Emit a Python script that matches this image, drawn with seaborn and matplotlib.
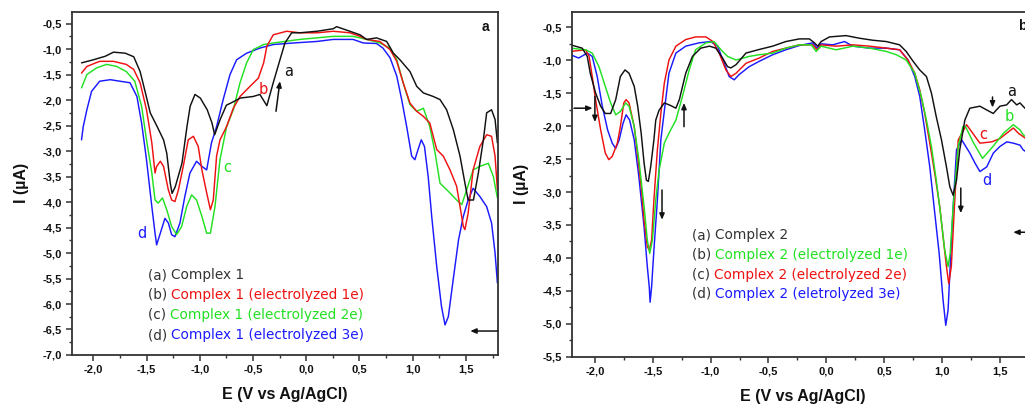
import numpy as np
import pandas as pd
import matplotlib
matplotlib.use("Agg")
import matplotlib.pyplot as plt
import seaborn as sns
from matplotlib.ticker import MultipleLocator, FuncFormatter

# ---------------- data: panel a (Complex 1) ----------------
a1_x = [-2.11, -2.0, -1.887, -1.81, -1.70, -1.62, -1.56, -1.51, -1.465, -1.40, -1.34, -1.31, -1.277, -1.26, -1.23,
        -1.167, -1.12, -1.09, -1.045, -0.995, -0.93, -0.885, -0.86, -0.81, -0.75, -0.70, -0.62, -0.50, -0.435,
        -0.37, -0.31, -0.247, -0.20, -0.137, -0.06, 0.10, 0.254, 0.285, 0.41, 0.505, 0.567, 0.66, 0.755, 0.818,
        0.88, 0.974, 1.037, 1.10, 1.193, 1.256, 1.318, 1.381, 1.444, 1.49, 1.52, 1.57, 1.616, 1.663, 1.694,
        1.74, 1.773, 1.795]
a1_y = [-1.27, -1.21, -1.14, -1.06, -1.08, -1.15, -1.44, -1.86, -2.25, -2.52, -2.78, -3.04, -3.63, -3.83, -3.70,
        -3.24, -2.52, -2.12, -1.89, -1.96, -2.19, -2.45, -2.68, -2.39, -2.10, -2.05, -1.96, -1.93, -1.89,
        -2.11, -1.66, -1.21, -0.88, -0.68, -0.68, -0.65, -0.60, -0.56, -0.65, -0.72, -0.81, -0.78, -0.85, -1.08,
        -1.21, -1.44, -1.73, -1.86, -1.93, -1.99, -2.19, -2.58, -3.10, -3.63, -3.96, -3.96, -3.43, -2.78, -2.25,
        -2.19, -2.38, -2.84]

b1_x = [-2.11, -2.06, -1.94, -1.81, -1.69, -1.62, -1.56, -1.50, -1.45, -1.42, -1.405, -1.37, -1.34, -1.295, -1.264,
        -1.233, -1.20, -1.155, -1.108, -1.06, -1.014, -0.98, -0.935, -0.90, -0.873, -0.842, -0.81, -0.748, -0.685,
        -0.622, -0.528, -0.45, -0.40, -0.37, -0.31, -0.184, -0.06, 0.10, 0.254, 0.41, 0.505, 0.567, 0.69, 0.787,
        0.85, 0.91, 0.974, 1.037, 1.10, 1.16, 1.225, 1.287, 1.35, 1.412, 1.444, 1.475, 1.49, 1.52, 1.567, 1.63,
        1.694, 1.74, 1.773, 1.795]
b1_y = [-1.47, -1.34, -1.24, -1.24, -1.30, -1.40, -1.66, -2.19, -2.84, -3.43, -3.30, -3.20, -3.30, -3.76, -3.96,
        -3.99, -3.76, -3.30, -2.78, -2.71, -2.91, -3.37, -3.82, -4.15, -3.96, -3.10, -2.78, -2.52, -2.16,
        -1.93, -1.73, -1.57, -1.27, -0.945, -0.72, -0.65, -0.68, -0.68, -0.65, -0.68, -0.75, -0.81, -0.85, -1.01,
        -1.24, -1.66, -2.06, -2.22, -2.32, -2.45, -2.97, -3.10, -3.37, -3.69, -4.09, -4.48, -4.54, -4.22, -3.37, -2.91,
        -2.68, -2.71, -3.10, -3.76]

c1_x = [-2.11, -2.06, -1.97, -1.875, -1.78, -1.69, -1.61, -1.546, -1.50, -1.45, -1.42, -1.39, -1.35, -1.31, -1.264,
        -1.217, -1.17, -1.123, -1.076, -1.03, -0.98, -0.935, -0.90, -0.857, -0.81, -0.748, -0.685, -0.622, -0.56,
        -0.497, -0.40, -0.31, -0.06, 0.254, 0.44, 0.567, 0.69, 0.787, 0.85, 0.91, 0.974, 1.037, 1.10, 1.16, 1.21,
        1.256, 1.334, 1.412, 1.46, 1.506, 1.567, 1.63, 1.71, 1.757, 1.795]
c1_y = [-1.76, -1.50, -1.37, -1.30, -1.34, -1.44, -1.63, -2.12, -2.78, -3.43, -3.96, -4.02, -3.92, -4.15, -4.48,
        -4.64, -4.48, -4.09, -3.86, -3.96, -4.28, -4.61, -4.61, -4.09, -3.17, -2.52, -2.19, -1.66, -1.27,
        -1.01, -0.91, -0.88, -0.81, -0.75, -0.75, -0.81, -0.88, -0.98, -1.21, -1.66, -2.09, -2.22, -2.16, -2.52, -3.04,
        -3.63, -3.79, -3.96, -4.05, -3.76, -3.37, -3.30, -3.24, -3.50, -3.92]

d1_x = [-2.11, -2.094, -2.06, -2.016, -1.94, -1.84, -1.75, -1.655, -1.59, -1.546, -1.50, -1.45, -1.42, -1.405, -1.37,
        -1.327, -1.295, -1.264, -1.233, -1.186, -1.14, -1.092, -1.03, -0.98, -0.935, -0.89, -0.842, -0.78, -0.716,
        -0.654, -0.56, -0.435, -0.31, -0.12, 0.10, 0.254, 0.44, 0.536, 0.66, 0.72, 0.787, 0.85, 0.896, 0.943, 0.99,
        1.02, 1.05, 1.08, 1.11, 1.145, 1.178, 1.225, 1.27, 1.303, 1.334, 1.38, 1.43, 1.475, 1.52, 1.567, 1.63,
        1.694, 1.74, 1.773, 1.795]
d1_y = [-2.78, -2.52, -2.19, -1.83, -1.63, -1.60, -1.63, -1.66, -1.93, -2.45, -3.17, -4.09, -4.61, -4.84, -4.61,
        -4.32, -4.41, -4.64, -4.68, -4.41, -3.89, -3.43, -3.20, -3.30, -3.37, -2.84, -2.52, -1.99, -1.50,
        -1.21, -1.08, -0.98, -0.91, -0.88, -0.85, -0.81, -0.81, -0.88, -0.89, -0.98, -1.17, -1.53, -1.99, -2.52, -3.10,
        -3.17, -2.97, -2.78, -2.91, -3.50, -4.28, -5.26, -6.05, -6.41, -6.25, -5.52, -4.74, -4.28, -3.96, -3.73, -3.89,
        -4.09, -4.41, -5.00, -5.59]

# ---------------- data: panel b (Complex 2) ----------------
a2_x = [-2.21, -2.11, -2.066, -2.04, -1.994, -1.95, -1.91, -1.864, -1.82, -1.78, -1.74, -1.705, -1.66, -1.63, -1.60,
        -1.575, -1.555, -1.538, -1.518, -1.49, -1.474, -1.445, -1.40, -1.345, -1.30, -1.27, -1.215, -1.157, -1.085,
        -1.01, -0.955, -0.897, -0.854, -0.825, -0.78, -0.695, -0.58, -0.464, -0.35, -0.233, -0.146, -0.103, -0.074,
        -0.045, 0.027, 0.17, 0.287, 0.40, 0.518, 0.633, 0.69, 0.75, 0.807, 0.865, 0.908, 0.95, 0.995, 1.038, 1.067,
        1.096, 1.125, 1.153, 1.197, 1.24, 1.327, 1.384, 1.442, 1.50, 1.558, 1.60, 1.645, 1.673, 1.716, 1.76, 1.80]
a2_y = [-0.77, -0.82, -0.945, -1.20, -1.50, -1.70, -1.81, -1.81, -1.60, -1.25, -1.15, -1.20, -1.40, -1.70, -2.11,
        -2.56, -2.82, -2.84, -2.62, -2.21, -1.91, -1.76, -1.65, -1.69, -1.73, -1.60, -1.20, -0.945, -0.82,
        -0.79, -0.82, -0.97, -1.10, -1.12, -1.07, -0.895, -0.84, -0.79, -0.72, -0.68, -0.68, -0.74, -0.79,
        -0.72, -0.65, -0.63, -0.67, -0.70, -0.72, -0.77, -0.87, -1.02, -1.15, -1.25, -1.50, -1.86, -2.21, -2.62, -2.92,
        -3.05, -2.82, -2.36, -1.91, -1.73, -1.70, -1.755, -1.81, -1.70, -1.68, -1.60, -1.68, -1.65, -1.73, -1.76, -1.80]

b2_x = [-2.21, -2.08, -2.023, -1.965, -1.91, -1.864, -1.82, -1.78, -1.734, -1.705, -1.66, -1.62, -1.575, -1.547, -1.526,
        -1.503, -1.474, -1.445, -1.40, -1.36, -1.30, -1.243, -1.185, -1.13, -1.04, -0.97, -0.91, -0.854, -0.78,
        -0.666, -0.58, -0.464, -0.35, -0.233, -0.13, -0.088, -0.045, 0.085, 0.23, 0.374, 0.518, 0.605, 0.69, 0.764,
        0.82, 0.865, 0.908, 0.95, 0.986, 1.023, 1.052, 1.07, 1.096, 1.14, 1.18, 1.20, 1.27, 1.35, 1.44, 1.53, 1.616,
        1.674, 1.70, 1.75, 1.80]
b2_y = [-0.82, -0.845, -0.895, -1.10, -1.40, -1.65, -1.83, -1.78, -1.65, -1.70, -2.01, -2.51, -3.22, -3.73, -3.93,
        -3.73, -3.12, -2.67, -2.26, -2.11, -1.91, -1.55, -1.15, -0.845, -0.74, -0.72, -0.845, -0.945, -1.00,
        -0.945, -0.92, -0.895, -0.82, -0.77, -0.77, -0.87, -0.79, -0.845, -0.79, -0.82, -0.87, -0.92, -1.00, -1.20,
        -1.55, -1.91, -2.31, -2.82, -3.32, -3.88, -4.13, -3.93, -3.22, -2.31, -2.01, -2.00, -2.25, -2.49, -2.31, -2.11, -1.98,
        -2.06, -2.13, -2.20, -2.28]

c2_x = [-2.21, -2.08, -2.05, -2.023, -1.994, -1.95, -1.91, -1.88, -1.85, -1.806, -1.78, -1.75, -1.73, -1.705, -1.66,
        -1.63, -1.60, -1.575, -1.547, -1.53, -1.51, -1.49, -1.46, -1.43, -1.40, -1.36, -1.30, -1.215, -1.13, -1.04,
        -0.98, -0.926, -0.868, -0.825, -0.78, -0.695, -0.58, -0.464, -0.35, -0.233, -0.117, -0.08, -0.045, 0.085,
        0.23, 0.374, 0.518, 0.633, 0.706, 0.764, 0.807, 0.85, 0.894, 0.937, 0.98, 1.009, 1.038, 1.058, 1.08, 1.11,
        1.14, 1.212, 1.327, 1.43, 1.50, 1.616, 1.66, 1.70, 1.75, 1.80]
c2_y = [-0.87, -0.845, -0.945, -1.25, -1.60, -2.06, -2.41, -2.51, -2.46, -2.26, -2.01, -1.65, -1.60, -1.65, -2.01,
        -2.46, -2.92, -3.43, -3.83, -3.88, -3.73, -3.12, -2.36, -1.81, -1.35, -1.00, -0.79, -0.69, -0.65, -0.65,
        -0.72, -0.895, -1.15, -1.25, -1.20, -1.05, -0.97, -0.87, -0.82, -0.77, -0.77, -0.845, -0.77, -0.79,
        -0.77, -0.79, -0.82, -0.845, -1.00, -1.20, -1.45, -1.81, -2.26, -2.72, -3.22, -3.68, -4.13, -4.39, -4.13, -3.12,
        -2.21, -1.98, -2.26, -2.24, -2.19, -2.03, -2.11, -2.16, -2.22, -2.30]

d2_x = [-2.21, -2.14, -2.066, -2.023, -1.98, -1.936, -1.89, -1.85, -1.82, -1.79, -1.757, -1.73, -1.70, -1.66, -1.62,
        -1.575, -1.547, -1.53, -1.523, -1.51, -1.49, -1.46, -1.43, -1.388, -1.36, -1.30, -1.215, -1.10, -1.00, -0.94,
        -0.882, -0.84, -0.796, -0.753, -0.666, -0.58, -0.464, -0.35, -0.233, -0.117, -0.08, -0.045, 0.056, 0.157,
        0.23, 0.374, 0.518, 0.633, 0.706, 0.764, 0.807, 0.85, 0.894, 0.937, 0.975, 1.009, 1.032, 1.052, 1.07, 1.096,
        1.125, 1.17, 1.24, 1.284, 1.327, 1.386, 1.443, 1.50, 1.56, 1.616, 1.674, 1.70, 1.75, 1.80]
d2_y = [-0.92, -0.97, -0.895, -0.945, -1.25, -1.70, -2.06, -2.26, -2.34, -2.21, -1.96, -1.83, -1.91, -2.21, -2.77,
        -3.53, -4.13, -4.44, -4.67, -4.44, -3.88, -3.12, -2.21, -1.60, -1.20, -0.895, -0.79, -0.74, -0.72, -0.79,
        -1.05, -1.25, -1.30, -1.22, -1.10, -1.02, -0.92, -0.845, -0.78, -0.74, -0.82, -0.755, -0.77, -0.72,
        -0.79, -0.82, -0.82, -0.845, -1.00, -1.25, -1.55, -2.06, -2.62, -3.32, -3.93, -4.64, -5.02, -4.79, -4.13, -3.22,
        -2.36, -2.21, -2.41, -2.56, -2.69, -2.62, -2.41, -2.31, -2.24, -2.26, -2.29, -2.36, -2.42, -2.50]

COL = {"black": "#111111", "red": "#ee1111", "green": "#22e022", "blue": "#1a1aff"}

left_series = [("a", a1_x, a1_y, COL["black"], "Complex 1"),
               ("b", b1_x, b1_y, COL["red"], "Complex 1 (electrolyzed 1e)"),
               ("c", c1_x, c1_y, COL["green"], "Complex 1 (electrolyzed 2e)"),
               ("d", d1_x, d1_y, COL["blue"], "Complex 1 (electrolyzed 3e)")]
right_series = [("a", a2_x, a2_y, COL["black"], "Complex 2"),
                ("b", b2_x, b2_y, COL["green"], "Complex 2 (electrolyzed 1e)"),
                ("c", c2_x, c2_y, COL["red"], "Complex 2 (electrolyzed 2e)"),
                ("d", d2_x, d2_y, COL["blue"], "Complex 2 (eletrolyzed 3e)")]

sns.set_style("white")
plt.rcParams["font.family"] = ["Liberation Sans", "DejaVu Sans"]

fig = plt.figure(figsize=(10.25, 4.07), dpi=100)
axL = fig.add_axes([0.0702, 0.1278, 0.4156, 0.843])
axR = fig.add_axes([0.5578, 0.1229, 0.4516, 0.848])

comma = FuncFormatter(lambda v, p: ("%.1f" % v).replace(".", ","))


def draw(ax, series, ylim):
    frames = []
    for key, xs, ys, c, lab in series:
        frames.append(pd.DataFrame({"E": xs, "I": ys, "s": key}))
    df = pd.concat(frames, ignore_index=True)
    pal = {k: c for k, _, _, c, _ in series}
    sns.lineplot(data=df, x="E", y="I", hue="s", palette=pal, sort=False,
                 estimator=None, legend=False, lw=1.05, ax=ax,
                 hue_order=[s[0] for s in series][::-1])
    ax.set_xlim(-2.2, 1.8)
    ax.set_ylim(*ylim)
    ax.xaxis.set_major_locator(MultipleLocator(0.5))
    ax.xaxis.set_minor_locator(MultipleLocator(0.25))
    ax.yaxis.set_major_locator(MultipleLocator(0.5))
    ax.yaxis.set_minor_locator(MultipleLocator(0.25))
    ax.xaxis.set_major_formatter(comma)
    ax.yaxis.set_major_formatter(comma)
    ax.tick_params(axis="both", which="major", direction="out", length=4, width=1.1,
                   labelsize=8, color="#333333", labelcolor="#111111", pad=3,
                   bottom=True, left=True)
    ax.tick_params(axis="both", which="minor", direction="out", length=2.5, width=1.0,
                   color="#333333", bottom=True, left=True)
    for lbl in ax.get_xticklabels() + ax.get_yticklabels():
        lbl.set_fontweight("bold")
    for sp in ax.spines.values():
        sp.set_color("#333333")
        sp.set_linewidth(1.3)
    ax.set_xlabel("E (V vs Ag/AgCl)", fontsize=11.5, fontweight="bold", color="#111111", labelpad=9)
    ax.set_ylabel("I (µA)", fontsize=11.5, fontweight="bold", color="#111111", labelpad=10)


draw(axL, left_series, (-7.0, -0.27))
draw(axR, right_series, (-5.5, -0.27))


def legend_text(ax, series, x0, ys):
    for (key, _, _, c, lab), y in zip(series, ys):
        t = ax.text(x0, y, "(%s) " % key, transform=ax.transAxes, fontsize=9.8,
                    color="#333333", family="DejaVu Sans", va="center", ha="left")
        ax.annotate(lab, xy=(1, 0.5), xycoords=t, xytext=(0, 0), textcoords="offset points",
                    fontsize=9.8, color=c if key != "a" else "#333333",
                    family="DejaVu Sans", va="center", ha="left")


legend_text(axL, left_series, 0.178, [0.233, 0.175, 0.117, 0.058])
legend_text(axR, right_series, 0.259, [0.352, 0.296, 0.238, 0.183])

# curve letters
for ax, items in [(axL, [("a", -0.17, -1.44, COL["black"]), ("b", -0.40, -1.80, COL["red"]),
                         ("c", -0.74, -3.33, COL["green"]), ("d", -1.54, -4.61, COL["blue"])]),
                  (axR, [("a", 1.60, -1.48, COL["black"]), ("b", 1.58, -1.86, COL["green"]),
                         ("c", 1.355, -2.13, COL["red"]), ("d", 1.39, -2.82, COL["blue"])])]:
    for s, x, y, c in items:
        ax.text(x, y, s, color=c, fontsize=10.5, ha="center", va="center", family="DejaVu Sans")

# panel letters
axL.text(0.97, 0.955, "a", transform=axL.transAxes, fontsize=10, fontweight="bold",
         ha="center", va="center", color="#111111")
axR.text(1.695, -0.48, "b", fontsize=10, fontweight="bold", ha="center", va="center", color="#111111")

# arrows
arrow_kw = dict(arrowstyle="-|>,head_length=0.35,head_width=0.15", color="#111111", lw=1.1,
                shrinkA=0, shrinkB=0)
axL.annotate("", xy=(-0.247, -1.63), xytext=(-0.284, -2.22), arrowprops=arrow_kw)
axL.annotate("", xy=(1.54, -6.53), xytext=(1.80, -6.53), arrowprops=arrow_kw)

axR.annotate("", xy=(-2.02, -1.73), xytext=(-2.18, -1.73), arrowprops=arrow_kw)
axR.annotate("", xy=(-2.0, -1.94), xytext=(-2.0, -1.55), arrowprops=arrow_kw)
axR.annotate("", xy=(-1.23, -1.65), xytext=(-1.23, -2.01), arrowprops=arrow_kw)
axR.annotate("", xy=(-1.42, -3.42), xytext=(-1.42, -2.97), arrowprops=arrow_kw)
axR.annotate("", xy=(1.162, -3.32), xytext=(1.162, -2.94), arrowprops=arrow_kw)
axR.annotate("", xy=(1.436, -1.72), xytext=(1.436, -1.56), arrowprops=arrow_kw)
axR.annotate("", xy=(1.615, -3.61), xytext=(1.80, -3.61), arrowprops=arrow_kw)

fig.savefig("out.png", dpi=100)
